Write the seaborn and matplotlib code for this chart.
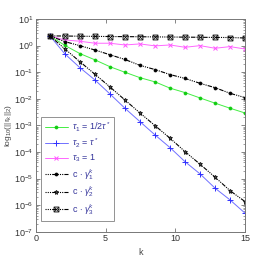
import numpy as np
import pandas as pd
import matplotlib
matplotlib.use('Agg')
import matplotlib.pyplot as plt
import seaborn as sns

# iteration positions of the markers (14 points between k=1 and k=15)
k = [1, 2.08, 3.15, 4.23, 5.31, 6.38, 7.46, 8.54, 9.62, 10.69, 11.77, 12.85, 13.92, 15]

# residual norms
tau1 = [2.30, 1.01, 0.50, 0.29, 0.16, 0.099, 0.062, 0.043, 0.025, 0.017, 0.0107, 0.0068, 0.0044, 0.0029]
tau2 = [2.30, 0.483, 0.148, 0.0509, 0.0151, 0.0044, 0.00138, 4.36e-4, 1.45e-4, 4.31e-5, 1.49e-5, 4.32e-6, 1.57e-6, 4.96e-7]
tau3 = [2.30, 1.62, 1.45, 1.22, 1.22, 1.05, 1.15, 0.97, 1.05, 0.86, 0.99, 0.79, 0.91, 0.74]
gam1 = [2.30, 1.40, 0.99, 0.68, 0.45, 0.30, 0.18, 0.125, 0.081, 0.058, 0.038, 0.026, 0.016, 0.011]
gam2 = [2.30, 0.745, 0.248, 0.0834, 0.0278, 0.00902, 0.00292, 9.75e-4, 3.27e-4, 1.03e-4, 3.45e-5, 1.12e-5, 3.5e-6, 1.35e-6]
gam3 = [2.30, 2.28, 2.24, 2.21, 2.18, 2.16, 2.14, 2.11, 2.09, 2.07, 2.04, 2.02, 2.00, 1.92]

labels = [r'$\tau_1$ = 1/2$\tau^*$', r'$\tau_2$ = $\tau^*$', r'$\tau_3$ = 1',
          r'c $\cdot$ $\gamma_1^k$', r'c $\cdot$ $\gamma_2^k$', r'c $\cdot$ $\gamma_3^k$']

sns.set_style('ticks')
plt.rcParams['font.family'] = ['Liberation Sans', 'DejaVu Sans']
plt.rcParams['mathtext.fontset'] = 'custom'
plt.rcParams['mathtext.rm'] = 'Liberation Sans'
plt.rcParams['mathtext.it'] = 'Liberation Sans:italic'

fig = plt.figure(figsize=(2.72, 2.63), dpi=100)
ax = fig.add_axes([0.132, 0.119, 0.769, 0.809])

dashdot = (0, (1, 1, 1, 1, 1, 1, 4, 1))
sns.lineplot(x=k, y=tau1, ax=ax, color='#44ee44', lw=0.7, marker='o', ms=2.2,
             mec='#11cc11', mfc='#11cc11', mew=0.5, label=labels[0])
sns.lineplot(x=k, y=tau2, ax=ax, color='#7070ff', lw=0.7, marker='+', ms=4,
             mec='#3030ff', mew=0.7, label=labels[1])
sns.lineplot(x=k, y=tau3, ax=ax, color='#ff66ff', lw=0.7, marker='x', ms=3.2,
             mec='#ff55ff', mew=0.7, label=labels[2])
sns.lineplot(x=k, y=gam1, ax=ax, color='black', lw=0.8, linestyle=dashdot, marker='o', ms=2.2,
             mec='black', mfc='black', mew=0.5, label=labels[3])
sns.lineplot(x=k, y=gam2, ax=ax, color='black', lw=0.8, linestyle=dashdot, marker='*', ms=3.6,
             mec='black', mfc='#444444', mew=0.5, label=labels[4])
sns.lineplot(x=k, y=gam3, ax=ax, color='black', lw=0.8, linestyle=dashdot, marker=r'$\boxtimes$', ms=3.8,
             mec='black', mfc='black', mew=0.2, label=labels[5])

ax.set_yscale('log')
ax.set_xlim(0, 15)
ax.set_ylim(1e-7, 1e1)
ax.set_xticks([0, 5, 10, 15])
ax.tick_params(axis='both', which='both', direction='in', top=True, right=True,
               labelsize=6.5, colors='#555555', labelcolor='#333333')
ax.tick_params(which='major', length=3, width=0.5, pad=2)
ax.tick_params(which='minor', length=1.5, width=0.4)
for s in ax.spines.values():
    s.set_color('#777777')
    s.set_linewidth(0.7)

ax.set_xlabel('k', fontsize=6.5, color='#444444', labelpad=3)
ax.set_ylabel(r'log$_{10}$(||r$_k$||$_2$)', fontsize=6, color='#444444', labelpad=0)

leg = ax.legend(loc='lower left', bbox_to_anchor=(0.024, 0.052), borderaxespad=0,
                fontsize=6.5, frameon=True, fancybox=False, edgecolor='#777777',
                handlelength=2.6, labelspacing=0.3, borderpad=0.4, handletextpad=0.4)
leg.get_frame().set_linewidth(0.7)
for t in leg.get_texts():
    t.set_color('#33339a')

fig.savefig('out.png', dpi=100)
